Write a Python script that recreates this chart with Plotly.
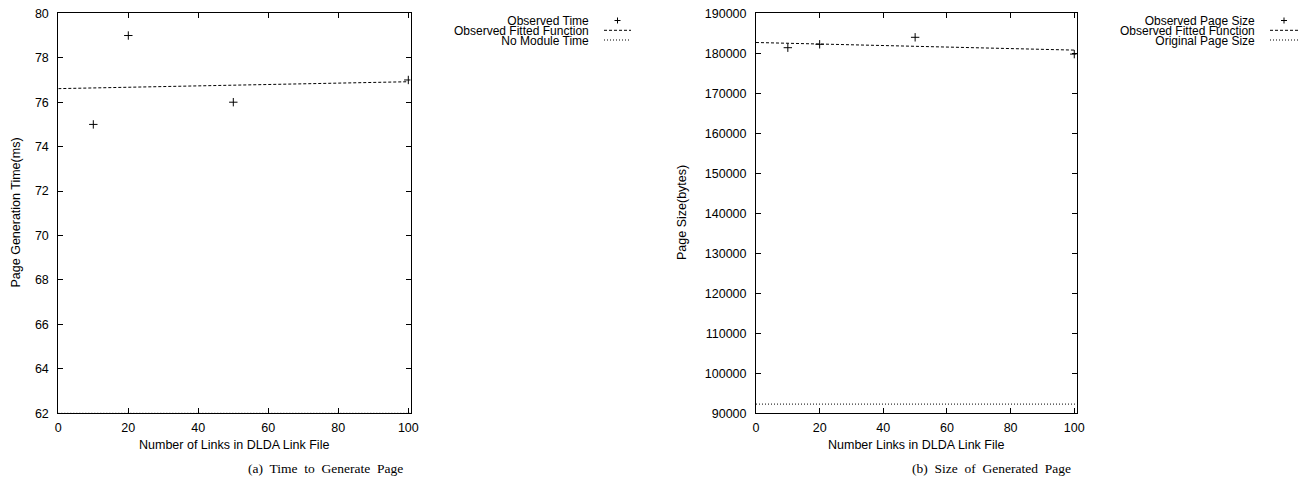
import plotly.graph_objects as go

W, H = 1310, 481

# ---- data ----
links = [10, 20, 50, 100]
observed_time = [75, 79, 76, 77]
fit_time_x = [0, 100]
fit_time_y = [76.61, 76.92]
no_module_time = 62

page_size = [181400, 182250, 184000, 179800]
fit_size_x = [0, 100]
fit_size_y = [182700, 180800]
original_page_size = 92300

time_ticks = [62, 64, 66, 68, 70, 72, 74, 76, 78, 80]
size_ticks = [90000, 100000, 110000, 120000, 130000, 140000, 150000, 160000, 170000, 180000, 190000]
x_ticks = [0, 20, 40, 60, 80, 100]

left_labels = ["Observed Time", "Observed Fitted Function", "No Module Time"]
right_labels = ["Observed Page Size", "Observed Fitted Function", "Original Page Size"]

FONT = "Liberation Sans, Arial, Helvetica, sans-serif"
SERIF = "Liberation Serif, Times New Roman, serif"
FS = 12.5


def px(x):
    return x / W


def py(y):
    return 1 - y / H


fig = go.Figure()

marker = dict(symbol="cross-thin", size=6, line=dict(color="black", width=1), color="black")
dash = "3px,2px"
dot = "1px,2px"

# left panel
fig.add_trace(go.Scatter(x=links, y=observed_time, mode="markers", marker=marker,
                         xaxis="x", yaxis="y", showlegend=False))
fig.add_trace(go.Scatter(x=fit_time_x, y=fit_time_y, mode="lines",
                         line=dict(color="black", width=1, dash=dash),
                         xaxis="x", yaxis="y", showlegend=False))
fig.add_trace(go.Scatter(x=[0, 100.6], y=[no_module_time, no_module_time], mode="lines",
                         line=dict(color="black", width=1, dash=dot),
                         xaxis="x", yaxis="y", showlegend=False))

# right panel
fig.add_trace(go.Scatter(x=links, y=page_size, mode="markers", marker=marker,
                         xaxis="x2", yaxis="y2", showlegend=False))
fig.add_trace(go.Scatter(x=fit_size_x, y=fit_size_y, mode="lines",
                         line=dict(color="black", width=1, dash=dash),
                         xaxis="x2", yaxis="y2", showlegend=False))
fig.add_trace(go.Scatter(x=[0, 100.6], y=[original_page_size, original_page_size], mode="lines",
                         line=dict(color="black", width=1, dash=dot),
                         xaxis="x2", yaxis="y2", showlegend=False))

axis_common = dict(
    showgrid=False, zeroline=False, showline=True, linecolor="black", linewidth=1,
    mirror="ticks", ticks="inside", ticklen=5, tickcolor="black", tickwidth=1,
    automargin=False, ticklabeloverflow="allow",
    tickfont=dict(family=FONT, size=FS, color="black"),
)

y_top, y_bot = 13.3, 413.3
L = dict(x0=58.3, x1=410.5)
R = dict(x0=756.0, x1=1076.5)

fig.update_layout(
    width=W, height=H,
    margin=dict(l=0, r=0, t=0, b=0, autoexpand=False),
    paper_bgcolor="white", plot_bgcolor="white",
    xaxis=dict(domain=[px(L["x0"]), px(L["x1"])], range=[0, 100.63], tickvals=x_ticks,
               anchor="y", ticklabelstandoff=3, **axis_common),
    yaxis=dict(domain=[py(y_bot), py(y_top)], range=[62, 80], tickvals=time_ticks,
               anchor="x", ticklabelstandoff=6, **axis_common),
    xaxis2=dict(domain=[px(R["x0"]), px(R["x1"])], range=[0, 100.7], tickvals=x_ticks,
                anchor="y2", ticklabelstandoff=3, **axis_common),
    yaxis2=dict(domain=[py(y_bot), py(y_top)], range=[90000, 190000], tickvals=size_ticks,
                tickformat="d", anchor="x2", ticklabelstandoff=6, **axis_common),
)

ann = []


def text(x, y, s, xanchor="center", angle=0, font=FONT, size=FS, align="center"):
    ann.append(dict(x=px(x), y=py(y), xref="paper", yref="paper", text=s, showarrow=False,
                    xanchor=xanchor, yanchor="middle", textangle=angle, align=align,
                    font=dict(family=font, size=size, color="black")))


# axis titles
text(234, 444.5, "Number of Links in DLDA Link File")
text(916, 444.5, "Number Links in DLDA Link File")
text(15.5, 213, "Page Generation Time(ms)", angle=-90)
text(682, 213, "Page Size(bytes)", angle=-90)

# captions
text(325, 468.5, "(a)  Time  to  Generate  Page", font=SERIF, size=13.5)
text(991, 468.5, "(b)  Size  of  Generated  Page", font=SERIF, size=13.5)

# legends: one block per panel, tight gnuplot-like line spacing (~10 px)
rows = [20.5, 30.3, 40.0]
LEG_FS = 12
spacing_font = 10.0 / 1.3


def legend_block(labels):
    return "<br>".join(f'<span style="font-size:{LEG_FS}px">{s}</span>' for s in labels)


text(591, rows[1] + 0.5, legend_block(left_labels), xanchor="right", size=spacing_font, align="right")
text(1257, rows[1] + 0.5, legend_block(right_labels), xanchor="right", size=spacing_font, align="right")

shapes = []


def seg(x0, y0, x1, y1, dsh="solid"):
    shapes.append(dict(type="line", xref="paper", yref="paper",
                       x0=px(x0), y0=py(y0), x1=px(x1), y1=py(y1),
                       line=dict(color="black", width=1, dash=dsh)))


for sx0, sx1 in [(604, 631), (1270, 1298)]:
    cx = (sx0 + sx1) / 2
    seg(cx - 3, rows[0], cx + 3, rows[0])
    seg(cx, rows[0] - 3, cx, rows[0] + 3)
    seg(sx0, rows[1], sx1, rows[1], dash)
    seg(sx0, rows[2], sx1, rows[2], dot)

fig.update_layout(annotations=ann, shapes=shapes)

# remove the browser's default 8px body margin so the figure fills the window exactly
fig.write_html("out.html",
               config={"displayModeBar": False},
               post_script="document.body.style.margin='0';document.body.style.overflow='hidden';")
